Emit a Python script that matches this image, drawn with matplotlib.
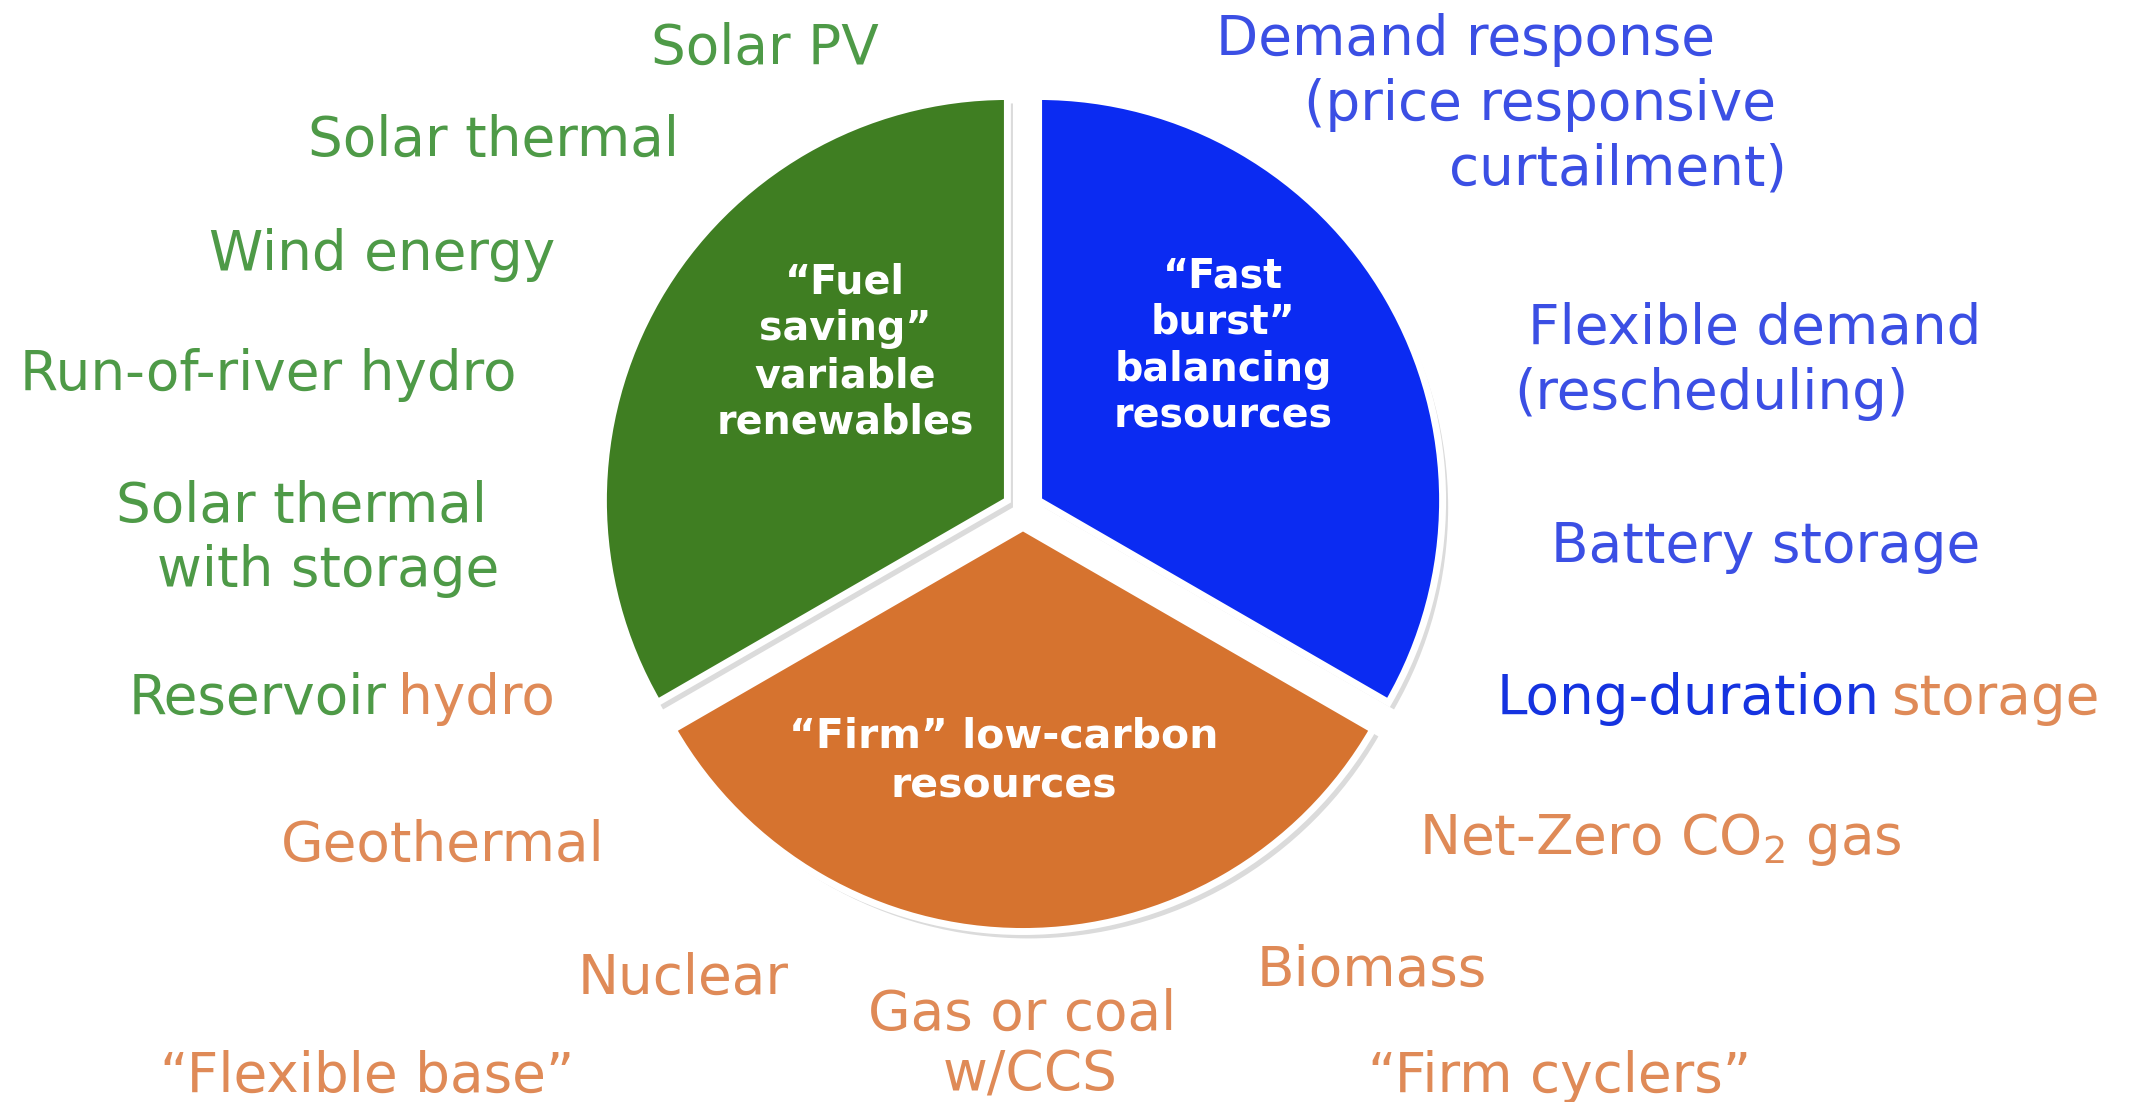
import matplotlib.pyplot as plt
from matplotlib import patheffects as pe

plt.rcParams["mathtext.default"] = "regular"

W, H = 2131, 1102

# three resource groups, equal slices
groups = ["Fuel saving", "Firm", "Fast burst"]
shares = [1, 1, 1]
wedge_colors = ["#3F7E22", "#D6732F", "#0B2BF2"]

green_txt = "#4E9A47"
blue_txt = "#3B4FE4"
orange_txt = "#DF8A57"
deep_blue = "#1533E0"

# labels inside the wedges (one entry per line)
fuel_lines = ["\u201cFuel", "saving\u201d", "variable", "renewables"]
fast_lines = ["\u201cFast", "burst\u201d", "balancing", "resources"]
firm_lines = ["\u201cFirm\u201d low-carbon", "resources"]

# labels around the pie
green_labels = ["Solar PV", "Solar thermal", "Wind energy", "Run-of-river hydro",
                "Solar thermal", "with storage"]
blue_labels = ["Demand response", "(price responsive", "curtailment)",
               "Flexible demand", "(rescheduling)", "Battery storage"]
orange_labels = ["Geothermal", "Nuclear", "Gas or coal", "w/CCS", "\u201cFlexible base\u201d",
                 "Net-Zero CO$_2$ gas", "Biomass", "\u201cFirm cyclers\u201d"]

# layout (pixel positions, baseline)
green_pos = [(765, 64), (494, 156), (382, 270), (268, 390), (302, 522), (328, 586)]
blue_pos = [(1465, 55), (1540, 120), (1618, 184), (1755, 344), (1711, 409), (1766, 562)]
orange_pos = [(443, 861), (683, 994), (1022, 1030), (1030, 1091), (367, 1092),
              (1660, 854), (1372, 986), (1560, 1092)]

fs = 39.5
bold_fs = 28.5

fig = plt.figure(figsize=(W / 100, H / 100), dpi=100, facecolor="white")

cx, cy = 1023, 509.5
pax = fig.add_axes([(cx - 500) / W, (H - cy - 500) / H, 1000 / W, 1000 / H])
wedges, _ = pax.pie(shares, colors=wedge_colors, startangle=90, counterclock=True,
                    radius=1.01, explode=[0.045] * 3,
                    wedgeprops=dict(edgecolor="white", linewidth=5))
for w in wedges:
    w.set_path_effects([pe.SimplePatchShadow(offset=(4, -5), shadow_rgbFace="#888888", alpha=0.3),
                        pe.Normal()])
pax.set_xlim(-1.25, 1.25)
pax.set_ylim(-1.25, 1.25)
pax.set_aspect("equal")
pax.axis("off")

ax = fig.add_axes([0, 0, 1, 1])
ax.set_xlim(0, W)
ax.set_ylim(H, 0)
ax.patch.set_visible(False)
ax.axis("off")

for txt, (x, y) in zip(green_labels, green_pos):
    ax.text(x, y, txt, color=green_txt, fontsize=fs, ha="center", va="baseline")
for txt, (x, y) in zip(blue_labels, blue_pos):
    ax.text(x, y, txt, color=blue_txt, fontsize=fs, ha="center", va="baseline")
for txt, (x, y) in zip(orange_labels, orange_pos):
    ax.text(x, y, txt, color=orange_txt, fontsize=fs, ha="center", va="baseline")

# two-colour labels
ax.text(387, 714, "Reservoir", color=green_txt, fontsize=fs, ha="right", va="baseline")
ax.text(398, 714, "hydro", color=orange_txt, fontsize=fs, ha="left", va="baseline")
ax.text(1880, 714, "Long-duration", color=deep_blue, fontsize=fs, ha="right", va="baseline")
ax.text(1891, 714, "storage", color=orange_txt, fontsize=fs, ha="left", va="baseline")

# wedge labels
for line, y in zip(fuel_lines, [293, 340, 387, 434]):
    ax.text(845, y, line, color="white", fontsize=bold_fs, fontweight="bold", ha="center", va="baseline")
for line, y in zip(fast_lines, [287, 334, 381, 428]):
    ax.text(1223, y, line, color="white", fontsize=bold_fs, fontweight="bold", ha="center", va="baseline")
for line, y in zip(firm_lines, [748, 797]):
    ax.text(1004, y, line, color="white", fontsize=bold_fs + 1, fontweight="bold", ha="center", va="baseline")

fig.savefig("out.png", dpi=100, facecolor="white")
